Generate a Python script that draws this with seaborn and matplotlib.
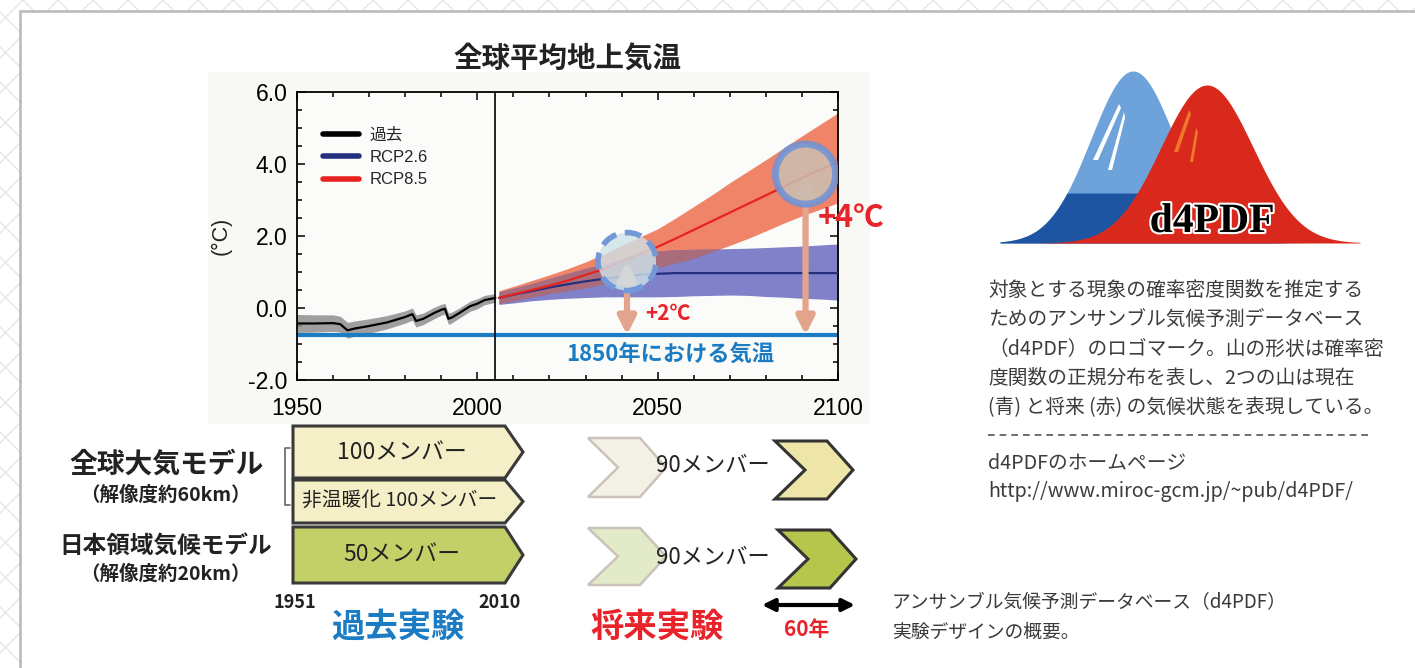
import numpy as np
import matplotlib
matplotlib.use("Agg")
import matplotlib.pyplot as plt
import seaborn as sns
from matplotlib.patches import Polygon, Rectangle, Ellipse
from matplotlib import patheffects as pe

sns.set_theme(style="ticks")
plt.rcParams["font.family"] = ["Liberation Sans", "Noto Sans CJK JP", "DejaVu Sans"]
JP = ["Noto Sans CJK JP", "DejaVu Sans"]

# ---------------- data ----------------
hist_years = [1950, 1955, 1960, 1962, 1964, 1966, 1970, 1975, 1980, 1982, 1983,
              1985, 1988, 1990, 1991, 1992, 1993, 1995, 1998, 2000, 2002, 2005]
hist_mean = [-0.43, -0.43, -0.42, -0.45, -0.62, -0.57, -0.50, -0.40, -0.25, -0.17, -0.36,
             -0.30, -0.14, -0.05, -0.02, -0.30, -0.26, -0.14, 0.05, 0.12, 0.22, 0.28]
hist_lo = [-0.68, -0.67, -0.65, -0.67, -0.84, -0.78, -0.70, -0.58, -0.42, -0.34, -0.53,
           -0.46, -0.30, -0.20, -0.17, -0.46, -0.41, -0.28, -0.09, -0.02, 0.09, 0.16]
hist_hi = [-0.18, -0.19, -0.19, -0.23, -0.40, -0.36, -0.30, -0.21, -0.08, 0.00, -0.19,
           -0.14, 0.02, 0.10, 0.13, -0.14, -0.11, 0.00, 0.19, 0.26, 0.35, 0.40]

rcp_years = [2006, 2010, 2015, 2020, 2025, 2030, 2035, 2040, 2045, 2050,
             2055, 2060, 2065, 2070, 2075, 2080, 2085, 2090, 2095, 2100]
rcp85_mean = [0.28, 0.38, 0.50, 0.62, 0.76, 0.92, 1.08, 1.30, 1.50, 1.70,
              1.93, 2.17, 2.41, 2.65, 2.89, 3.13, 3.37, 3.61, 3.84, 4.06]
rcp85_hi = [0.48, 0.60, 0.76, 0.92, 1.09, 1.28, 1.50, 1.74, 1.97, 2.20,
            2.50, 2.82, 3.14, 3.48, 3.80, 4.12, 4.45, 4.78, 5.10, 5.42]
rcp85_lo = [0.12, 0.20, 0.30, 0.40, 0.48, 0.56, 0.66, 0.80, 0.97, 1.12,
            1.25, 1.38, 1.56, 1.74, 1.93, 2.14, 2.36, 2.56, 2.74, 2.92]
rcp26_mean = [0.28, 0.37, 0.47, 0.57, 0.66, 0.74, 0.81, 0.87, 0.92, 0.95,
              0.97, 0.97, 0.97, 0.97, 0.97, 0.97, 0.97, 0.97, 0.97, 0.97]
rcp26_hi = [0.45, 0.55, 0.68, 0.82, 0.96, 1.10, 1.22, 1.35, 1.48, 1.58,
            1.62, 1.63, 1.64, 1.65, 1.66, 1.68, 1.70, 1.72, 1.75, 1.78]
rcp26_lo = [0.10, 0.14, 0.20, 0.24, 0.27, 0.29, 0.31, 0.31, 0.31, 0.31,
            0.32, 0.34, 0.35, 0.36, 0.35, 0.32, 0.30, 0.27, 0.25, 0.22]

temp_1850 = -0.75
split_year = 2005
marker_2deg = (2041.5, 1.29)
marker_4deg = (2091.0, 3.72)

y_ticks = [-2.0, 0.0, 2.0, 4.0, 6.0]
x_ticks = [1950, 2000, 2050, 2100]

caption_lines = [
    "対象とする現象の確率密度関数を推定する",
    "ためのアンサンブル気候予測データベース",
    "（d4PDF）のロゴマーク。山の形状は確率密",
    "度関数の正規分布を表し、2つの山は現在",
    "(青) と将来 (赤) の気候状態を表現している。",
]

# ---------------- figure ----------------
W, H = 1415, 668
fig = plt.figure(figsize=(W / 100, H / 100), dpi=100)


def px_rect(x0, y0, x1, y1):
    return [x0 / W, 1 - y1 / H, (x1 - x0) / W, (y1 - y0) / H]


# background lattice and white panel
ax_bg = fig.add_axes([0, 0, 1, 1])
ax_bg.set_xlim(0, W)
ax_bg.set_ylim(H, 0)
ax_bg.axis("off")
for c in np.arange(23 - 35 * 40, W + 35 * 40, 35):
    ax_bg.plot([c, c + 800], [0, 800], color="#e3e3e3", lw=0.9, zorder=0)
    ax_bg.plot([c, c - 800], [0, 800], color="#e3e3e3", lw=0.9, zorder=0)
ax_bg.add_patch(Rectangle((20, 11), W, H, facecolor="white", edgecolor="#b8b8b8",
                          lw=1.8, zorder=1))
ax_bg.add_patch(Rectangle((208, 72), 662, 352, facecolor="#f8f8f5", edgecolor="none",
                          zorder=2))

# ---------------- temperature chart ----------------
ax = fig.add_axes(px_rect(297, 92, 838, 380))
ax.set_zorder(2)
ax.set_facecolor("#fbfbf9")

ax.fill_between(hist_years, hist_lo, hist_hi, color="#8f8f8f", alpha=0.85, lw=0, zorder=1)
ax.fill_between(rcp_years, rcp85_lo, rcp85_hi, color="#f08468", lw=0, zorder=1)
ax.fill_between(rcp_years, rcp26_lo, rcp26_hi, color="#8081c8", lw=0, zorder=1.1)
ov_lo = np.maximum(rcp85_lo, rcp26_lo)
ov_hi = np.minimum(rcp85_hi, rcp26_hi)
ax.fill_between(rcp_years, ov_lo, ov_hi, where=ov_hi > ov_lo, interpolate=True,
                color="#a86c7c", lw=0, zorder=1.2)

sns.lineplot(x=hist_years, y=hist_mean, ax=ax, color="black", lw=1.6, label="過去", zorder=3)
sns.lineplot(x=rcp_years, y=rcp26_mean, ax=ax, color="#24307e", lw=1.6, label="RCP2.6", zorder=3)
sns.lineplot(x=rcp_years, y=rcp85_mean, ax=ax, color="#e8231f", lw=1.6, label="RCP8.5", zorder=3)

ax.axhline(temp_1850, color="#1b7cc4", lw=3, zorder=2.5)
ax.axvline(split_year, color="black", lw=1.2, zorder=2.6)

# warming markers
arrow_kw = dict(arrowstyle="<|-|>", color="#e3a48e", lw=4.5, mutation_scale=26,
                shrinkA=0, shrinkB=0)
for (mx, my) in (marker_2deg, marker_4deg):
    ax.annotate("", xy=(mx, temp_1850), xytext=(mx, my),
                arrowprops=arrow_kw, zorder=4, annotation_clip=False)

ax.add_patch(Ellipse(marker_2deg, 16.1, 1.61, facecolor="#cfe4ea", alpha=0.8,
                     edgecolor="none", zorder=5))
ax.add_patch(Ellipse(marker_2deg, 16.1, 1.61, facecolor="none", edgecolor="#7398d8",
                     lw=4, ls=(0, (3, 1.6)), zorder=5.1))
ax.add_patch(Ellipse(marker_4deg, 16.7, 1.67, facecolor="#cbbfb3", alpha=0.85,
                     edgecolor="#6d93d8", lw=5, zorder=5))

ax.set_xlim(1950, 2100)
ax.set_ylim(-2, 6)
ax.set_xticks(x_ticks)
ax.set_xticks(np.arange(1950, 2101, 10), minor=True)
ax.set_yticks(y_ticks)
ax.set_yticks(np.arange(-2, 6.01, 0.5), minor=True)
ax.set_yticklabels([f"{v:.1f}" for v in y_ticks])
ax.set_xticklabels([str(v) for v in x_ticks])
ax.tick_params(which="both", direction="in", top=True, right=True, colors="black",
               labelsize=16.5, width=1.1)
ax.tick_params(which="major", length=6)
ax.tick_params(which="minor", length=3.5)
ax.tick_params(axis="x", pad=12)
ax.tick_params(axis="y", pad=7)
for s in ax.spines.values():
    s.set_color("black")
    s.set_linewidth(1.3)
ax.set_ylabel("(°C)", fontsize=15.5, color="#222222")
ax.yaxis.set_label_coords(-0.12, 0.5)
ax.set_xlabel("")

leg = ax.legend(loc="upper left", bbox_to_anchor=(0.02, 0.93), frameon=False,
                fontsize=12, handlelength=2.2, handletextpad=0.6, labelspacing=0.45)
for h in leg.get_lines():
    h.set_linewidth(4)

# ---------------- overlay: labels, diagram, logo ----------------
ov = fig.add_axes([0, 0, 1, 1])
ov.set_zorder(3)
ov.set_xlim(0, W)
ov.set_ylim(H, 0)
ov.axis("off")
ov.patch.set_alpha(0)


def jtext(x, y, s, size, color="#222222", weight="normal", ha="center", **kw):
    ov.text(x, y, s, fontsize=size, color=color, fontweight=weight, ha=ha,
            va="center", family=JP, **kw)


jtext(567, 60, "全球平均地上気温", 20.5, weight="bold")
jtext(670, 354, "1850年における気温", 16, color="#1b7cc4", weight="bold")
jtext(668, 313, "+2℃", 15, color="#e8232a", weight="bold")
jtext(851, 218, "+4℃", 22, color="#e8232a", weight="bold")

# past-experiment bars
def past_bar(top, bot, fill):
    x0, body, tip = 293, 505, 523
    mid = (top + bot) / 2
    ov.add_patch(Polygon([(x0, top), (body, top), (tip, mid), (body, bot), (x0, bot)],
                         closed=True, facecolor=fill, edgecolor="#3a3a3a", lw=2.2,
                         joinstyle="miter"))


def chevron(left, top, bot, fill, edge, lw):
    mid = (top + bot) / 2
    notch, shoulder, tip = left + 30, left + 52, left + 78
    ov.add_patch(Polygon([(left, top), (shoulder, top), (tip, mid), (shoulder, bot),
                          (left, bot), (notch, mid)], closed=True, facecolor=fill,
                         edgecolor=edge, lw=lw, joinstyle="miter"))


past_bar(426, 478, "#f4efc7")
past_bar(480, 523, "#f4efc7")
past_bar(527, 583, "#c3d068")

chevron(588, 438, 497, "#f3f0e6", "#cbc3ba", 1.8)
chevron(588, 528, 585, "#e3eac8", "#cbc3ba", 1.8)
chevron(775, 441, 499, "#ede6a8", "#333333", 2.2)
chevron(778, 530, 588, "#b6c64c", "#333333", 2.2)

# bracket for the global model rows
ov.plot([290, 285, 285, 290], [448, 448, 505, 505], color="#666666", lw=1.2)

jtext(402, 453, "100メンバー", 16.5)
jtext(400, 500, "非温暖化 100メンバー", 14.2)
jtext(402, 555, "50メンバー", 16.5)
jtext(713, 465, "90メンバー", 16)
jtext(713, 557, "90メンバー", 16)

jtext(167, 465, "全球大気モデル", 20, weight="bold")
jtext(165, 495, "（解像度約60km）", 14, weight="bold")
jtext(166, 547, "日本領域気候モデル", 17, weight="bold")
jtext(165, 574, "（解像度約20km）", 14, weight="bold")

jtext(295, 602, "1951", 13, weight="bold")
jtext(500, 602, "2010", 13, weight="bold")
jtext(398, 627, "過去実験", 24, color="#1b7cc4", weight="bold")
jtext(657, 627, "将来実験", 24, color="#e8232a", weight="bold")

ov.annotate("", xy=(855, 605), xytext=(762, 605),
            arrowprops=dict(arrowstyle="<|-|>", color="black", lw=3, mutation_scale=18,
                            shrinkA=0, shrinkB=0))
jtext(807, 629, "60年", 15, color="#e8232a", weight="bold")

jtext(892, 603, "アンサンブル気候予測データベース（d4PDF）", 13.5, color="#3a3a3a", ha="left")
jtext(892, 632, "実験デザインの概要。", 13.5, color="#3a3a3a", ha="left")

# d4PDF logo: two normal-distribution "mountains"
xs = np.linspace(1000, 1360, 500)
base = 243
blue_top = base - 172 * np.exp(-0.5 * ((xs - 1133) / 42) ** 2)
red_top = base - 158 * np.exp(-0.5 * ((xs - 1207) / 46) ** 2)
ov.fill_between(xs, blue_top, base, color="#6ea2db", lw=0)
ov.fill_between(xs, np.maximum(blue_top, 193), base, color="#1d55a3", lw=0)
ov.add_patch(Polygon([(1119, 104), (1093, 160), (1098, 160), (1121, 108)],
                     facecolor="white", edgecolor="none"))
ov.add_patch(Polygon([(1124, 112), (1108, 170), (1112, 170), (1125, 118)],
                     facecolor="white", edgecolor="none"))
ov.fill_between(xs, red_top, base, color="#d9291c", lw=0)
ov.add_patch(Polygon([(1189, 110), (1174, 152), (1178, 152), (1191, 114)],
                     facecolor="#f0782a", edgecolor="none"))
ov.add_patch(Polygon([(1196, 128), (1190, 162), (1193, 162), (1198, 132)],
                     facecolor="#f0782a", edgecolor="none"))
ov.text(1212, 222, "d4PDF", family="Liberation Serif", fontweight="bold", fontsize=30,
        color="black", ha="center", va="center",
        path_effects=[pe.withStroke(linewidth=3, foreground="white")])

for i, line in enumerate(caption_lines):
    jtext(988, 290 + 29.5 * i, line, 14.2, color="#3c3c3c", ha="left")
ov.plot([988, 1368], [435, 435], color="#555555", lw=1.2, ls=(0, (4, 3)))
jtext(988, 463, "d4PDFのホームページ", 14.2, color="#3c3c3c", ha="left")
jtext(988, 492, "http://www.miroc-gcm.jp/~pub/d4PDF/", 14.2, color="#3c3c3c", ha="left")

fig.savefig("out.png", dpi=100)
